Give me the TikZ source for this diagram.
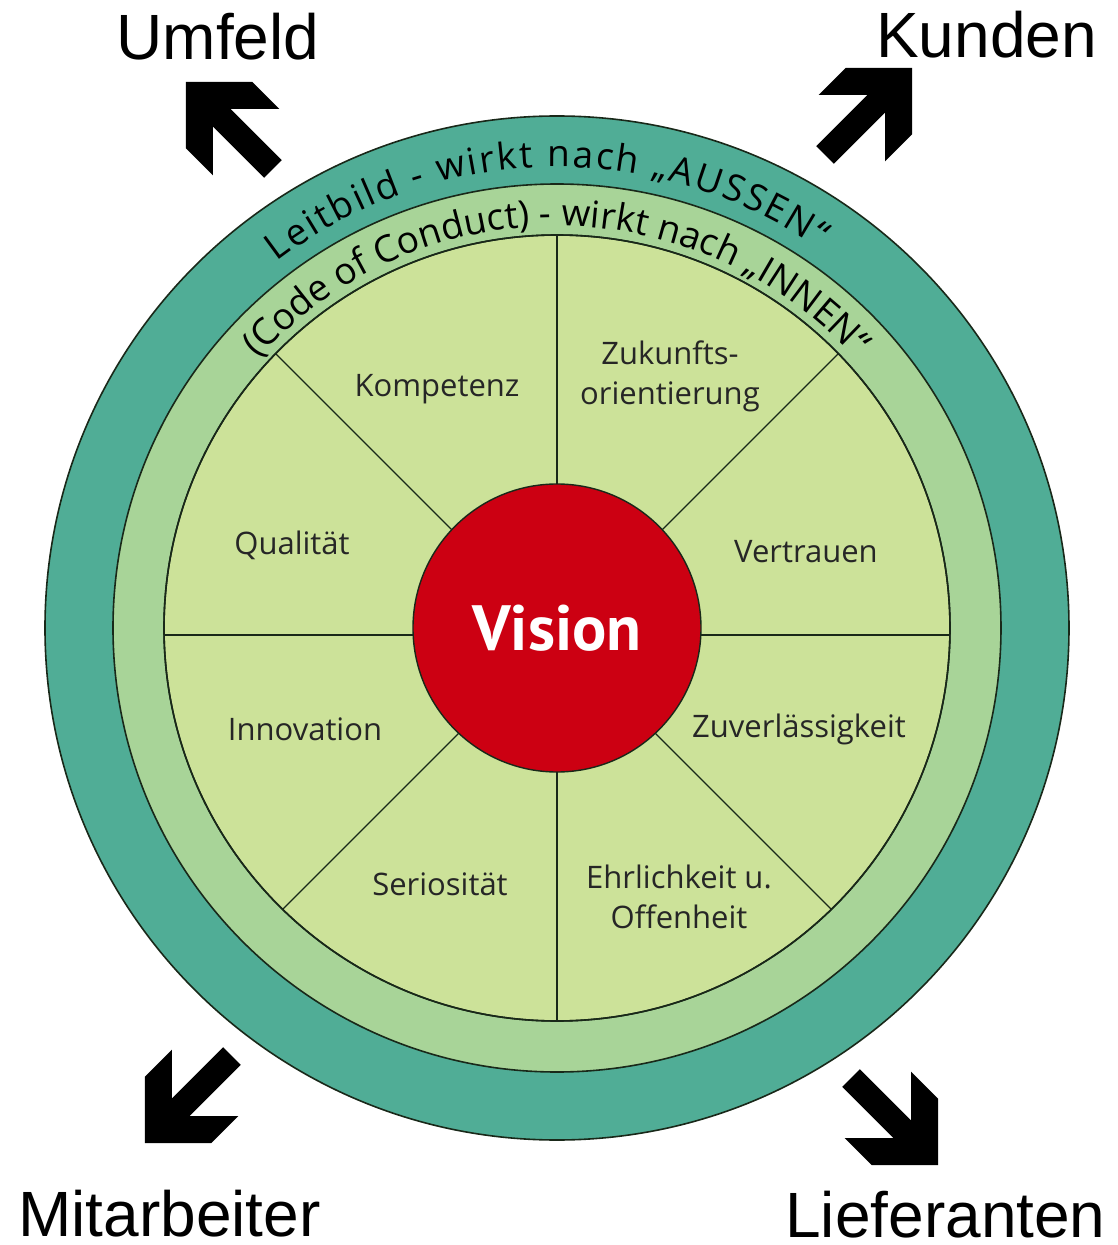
\documentclass[tikz,border=0pt]{standalone}
\usepackage{fontspec}
\setmainfont{Open Sans}
\newfontfamily\cornerfont{Liberation Sans}
\newfontfamily\visionfont{PT Sans}
\usetikzlibrary{decorations.text}
\definecolor{outerteal}{RGB}{80,173,150}
\definecolor{ringgreen}{RGB}{168,212,152}
\definecolor{diskgreen}{RGB}{204,226,153}
\definecolor{visionred}{RGB}{204,0,18}
\definecolor{rimline}{RGB}{25,40,25}
\newcommand{\arcfont}{\fontsize{37}{40}\selectfont}

\begin{document}
\begin{tikzpicture}[x=1pt,y=1pt,
	rim/.style={draw=rimline,line width=1.6pt},
	spoke/.style={draw=rimline,line width=1.1pt},
	valuelabel/.style={font=\fontsize{31}{40}\selectfont,text=black!85,align=center,anchor=base},
	cornerlabel/.style={font=\cornerfont\fontsize{64}{70}\selectfont,anchor=base},
	visionball/.style={circle,draw=rimline,line width=1.4pt,fill=visionred,minimum size=288pt,inner sep=0pt,text=white,font=\visionfont\bfseries\fontsize{64}{70}\selectfont},
	blockarrow/.pic={\fill[black] (0,0) -- (-47,47) -- (-85,47) -- (-50.5,12.5) -- (-123,12.5) -- (-123,-12.5) -- (-50.5,-12.5) -- (-85,-47) -- (-47,-47) -- cycle;}]
	\useasboundingbox (-557,-617) rectangle (561,628);
	\filldraw[rim,fill=outerteal] (0,0) circle[radius=512];
	\filldraw[rim,fill=ringgreen] (0,0) circle[radius=444];
	\filldraw[rim,fill=diskgreen] (0,0) circle[radius=393];
	\begin{scope}
		\clip (0,0) circle[radius=393];
		\foreach \a in {0,45,...,315}
			\draw[spoke] (0,-7) -- ++(\a:420);
	\end{scope}
	\draw[rim] (0,0) circle[radius=393];
	\node[visionball] (vision) at (0,0) {Vision};
	\path[decorate,decoration={text along path,text align={fit to path},text={|\arcfont|Leitbild - wirkt nach „AUSSEN“}}] (127.4:461) arc[start angle=127.4,end angle=55.5,radius=461];
	\path[decorate,decoration={text along path,text align={fit to path},text={|\arcfont|(Code of Conduct) - wirkt nach „INNEN“}}] (138:402) arc[start angle=138,end angle=42.5,radius=402];
	\node[valuelabel] (kompetenz) at (-120,231) {Kompetenz};
	\node[valuelabel] (zukunft) at (113,223) {Zukunfts-\\orientierung};
	\node[valuelabel] (qualitaet) at (-265,73) {Qualität};
	\node[valuelabel] (vertrauen) at (249,65) {Vertrauen};
	\node[valuelabel] (innovation) at (-252,-112) {Innovation};
	\node[valuelabel] (zuverl) at (242,-109) {Zuverlässigkeit};
	\node[valuelabel] (seriositaet) at (-117,-267) {Seriosität};
	\node[valuelabel] (ehrlichkeit) at (122,-300) {Ehrlichkeit u.\\Offenheit};
	\pic[rotate=135] at (-371,546) {blockarrow};
	\pic[rotate=45] at (355,560) {blockarrow};
	\pic[rotate=225] at (-412,-515) {blockarrow};
	\pic[rotate=-45] at (381,-537) {blockarrow};
	\node[cornerlabel] (umfeld) at (-339,568) {Umfeld};
	\node[cornerlabel] (kunden) at (429.5,570) {Kunden};
	\node[cornerlabel] (mitarbeiter) at (-387.5,-608) {Mitarbeiter};
	\node[cornerlabel] (lieferanten) at (388.5,-609) {Lieferanten};
\end{tikzpicture}
\end{document}
